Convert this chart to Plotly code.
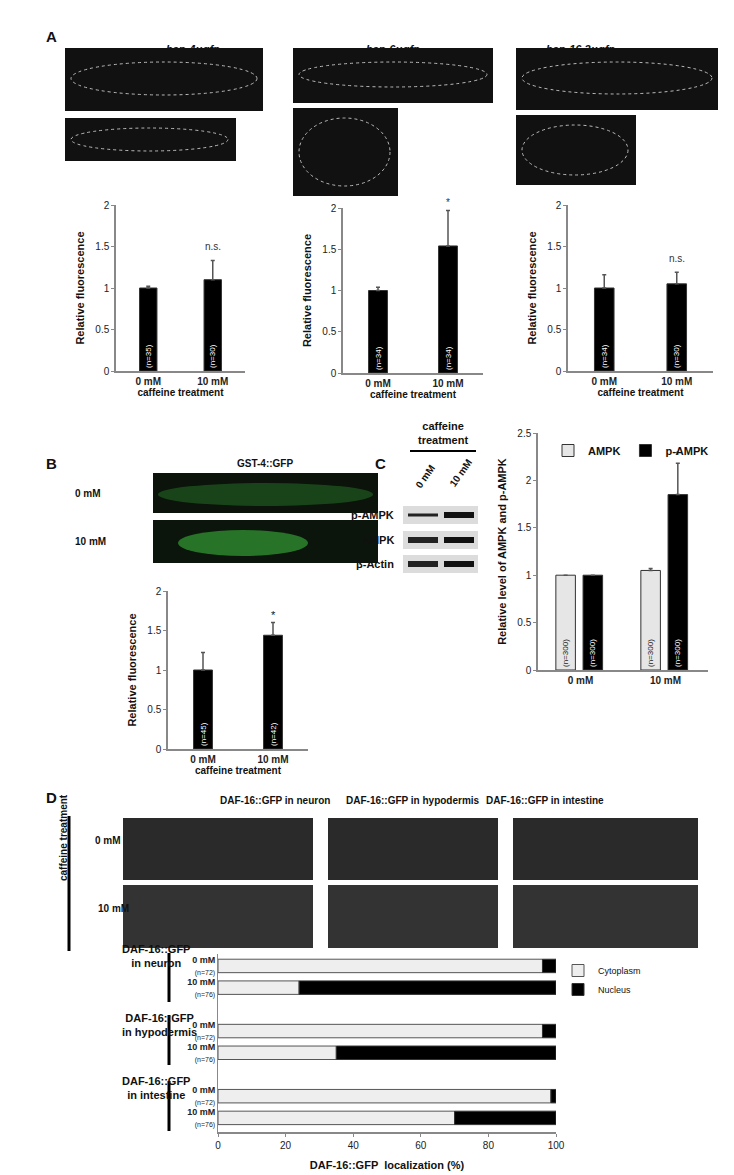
import plotly.graph_objects as go

W, H = 734, 1175
def px(x): return x / W
def py(y): return 1 - y / H

# ---------------- data ----------------
conc = ["0 mM", "10 mM"]
a_titles = ["hsp-4::gfp", "hsp-6::gfp", "hsp-16.2::gfp"]
a_vals = [[1.0, 1.1], [1.0, 1.54], [1.0, 1.05]]
a_err = [[0.02, 0.23], [0.04, 0.43], [0.16, 0.14]]
a_n = [["(n=35)", "(n=30)"], ["(n=34)", "(n=34)"], ["(n=34)", "(n=30)"]]
a_sig = ["n.s.", "*", "n.s."]
b_vals = [1.0, 1.44]
b_err = [0.22, 0.16]
b_n = ["(n=45)", "(n=42)"]
c_ampk = [1.0, 1.05]
c_ampk_err = [0, 0.02]
c_pampk = [1.0, 1.85]
c_pampk_err = [0, 0.33]
c_n = ["(n=300)", "(n=300)"]
d_conc = ["0 mM", "10 mM"] * 3
d_n = ["(n=72)", "(n=76)"] * 3
d_pos = [0, 1, 3, 4, 6, 7]
d_cyto = [96, 24, 96, 35, 98.5, 70]
d_nuc = [100 - v for v in d_cyto]
d_groups = ["DAF-16::GFP<br>in neuron", "DAF-16::GFP<br>in hypodermis", "DAF-16::GFP<br>in intestine"]

fig = go.Figure()
FONT = "Liberation Sans"
def axline():
    return dict(showline=True, linecolor="#888", linewidth=1.5, showgrid=False, zeroline=False,
                ticks="outside", ticklen=3, tickcolor="#888", tickfont=dict(size=10, color="#222", family=FONT))
ann = []
shapes = []

def sfx(i): return "" if i == 1 else str(i)

def bar_axes(i, x0, x1, y0, y1, ymax, dtick, xtitle=True, ytitle="Relative fluorescence"):
    xd = axline(); xd.update(domain=[px(x0), px(x1)], anchor="y" + sfx(i), range=[-0.5, 1.5], ticks="",
                            tickvals=[0, 1], ticktext=["<b>0 mM</b>", "<b>10 mM</b>"])
    if xtitle:
        xd["title"] = dict(text="<b>caffeine treatment</b>", font=dict(size=10, family=FONT, color="#111"), standoff=2)
    yd = axline(); yd.update(domain=[py(y1), py(y0)], anchor="x" + sfx(i), range=[0, ymax], dtick=dtick,
                            title=dict(text=f"<b>{ytitle}</b>", font=dict(size=11, family=FONT, color="#111"), standoff=8))
    fig.layout["xaxis" + sfx(i)] = xd
    fig.layout["yaxis" + sfx(i)] = yd

def bars(i, vals, err, ntext, color="black", name=None, offset=None, width=0.27, tcolor="white", show=False):
    fig.add_trace(go.Bar(x=[0, 1], y=vals, width=width, offset=offset, marker=dict(color=color, line=dict(color="#333", width=1)),
                         error_y=dict(type="data", symmetric=False, array=err, arrayminus=[0]*len(err), color="#555", thickness=1.5, width=2),
                         text=ntext, textangle=-90, textposition="inside", insidetextanchor="start", cliponaxis=False,
                         textfont=dict(size=8, color=tcolor, family=FONT), name=name, showlegend=show, legend="legend",
                         xaxis="x" + sfx(i), yaxis="y" + sfx(i)))

# ---------- Panel A ----------
a_geo = [(108, 237, 197, 363), (335, 475, 200, 365), (560, 705, 197, 363)]
for k in range(3):
    x0, x1, y0, y1 = a_geo[k]
    bar_axes(k + 1, x0, x1, y0, y1, 2, 0.5)
    bars(k + 1, a_vals[k], a_err[k], a_n[k])
    ann.append(dict(x=1, y=a_vals[k][1] + a_err[k][1], xref="x" + sfx(k + 1), yref="y" + sfx(k + 1), text=a_sig[k], showarrow=False,
                    yshift=14 if a_sig[k] == "n.s." else 8, font=dict(size=10, color="#333", family=FONT)))

# ---------- Panel B ----------
bar_axes(4, 160, 300, 583, 741, 2, 0.5)
bars(4, b_vals, b_err, b_n)
ann.append(dict(x=1, y=b_vals[1] + b_err[1], xref="x4", yref="y4", text="*", showarrow=False, yshift=8, font=dict(size=11, family=FONT)))

# ---------- Panel C ----------
bar_axes(5, 530, 700, 425, 662, 2.5, 0.5, xtitle=False, ytitle="Relative level of AMPK and p-AMPK")
bars(5, c_ampk, c_ampk_err, c_n, color="#e6e6e6", name="<b>AMPK</b>", offset=-0.29, width=0.23, tcolor="#222", show=True)
bars(5, c_pampk, c_pampk_err, c_n, color="black", name="<b>p-AMPK</b>", offset=0.03, width=0.23, show=True)
ann.append(dict(x=1.145, y=c_pampk[1] + c_pampk_err[1], xref="x5", yref="y5", text="*", showarrow=False, yshift=8, font=dict(size=11, family=FONT)))

# ---------- Panel D ----------
fig.add_trace(go.Bar(y=d_pos, x=d_cyto, orientation="h", width=0.62, name="Cytoplasm", legend="legend2",
                     marker=dict(color="#eeeeee", line=dict(color="#555", width=1)), xaxis="x6", yaxis="y6"))
fig.add_trace(go.Bar(y=d_pos, x=d_nuc, base=d_cyto, orientation="h", width=0.62, name="Nucleus", legend="legend2",
                     marker=dict(color="black", line=dict(color="#333", width=1)), xaxis="x6", yaxis="y6"))
xd6 = axline(); xd6.update(domain=[px(210), px(548)], anchor="y6", range=[0, 100], dtick=20,
                           title=dict(text="<b>DAF-16::GFP  localization (%)</b>", font=dict(size=11, family=FONT, color="#111"), standoff=12))
fig.layout.xaxis6 = xd6
d_ticks = [f"<b>{c}</b><br><span style='font-size:7px'>{n}</span>" for c, n in zip(d_conc, d_n)]
fig.layout.yaxis6 = dict(domain=[py(1124), py(946)], anchor="x6", range=[7.65, -0.55], tickvals=d_pos, ticktext=d_ticks,
                         showline=True, linecolor="#888", showgrid=False, zeroline=False, ticks="",
                         tickfont=dict(size=9, color="#222", family=FONT))
for g, yc in zip(d_groups, [963, 1032, 1095]):
    ann.append(dict(x=px(112), y=py(yc), xref="paper", yref="paper", text=f"<b>{g}</b>", showarrow=False,
                    font=dict(size=11, family=FONT, color="#111")))
for y0, y1 in [(945, 994), (1007, 1057), (1073, 1123)]:
    shapes.append(dict(type="line", xref="paper", yref="paper", x0=px(161), x1=px(161), y0=py(y0), y1=py(y1), line=dict(color="black", width=3)))

# ---------- images as dark rectangles ----------
def rect(x0, y0, x1, y1, color="#111"):
    shapes.append(dict(type="rect", xref="paper", yref="paper", x0=px(x0), x1=px(x1), y0=py(y1), y1=py(y0),
                       fillcolor=color, line=dict(width=0)))
def worm(x0, y0, x1, y1):
    shapes.append(dict(type="circle", xref="paper", yref="paper", x0=px(x0), x1=px(x1), y0=py(y1), y1=py(y0),
                       line=dict(color="#bbb", width=1, dash="dot")))

imgsA = [[(57, 40, 255, 103), (57, 110, 228, 153)],
         [(285, 40, 485, 95), (285, 100, 390, 188)],
         [(508, 40, 710, 102), (508, 107, 628, 177)]]
for k, (t, b) in enumerate(imgsA):
    rect(*t); rect(*b)
    worm(t[0] + 6, t[1] + 14, t[2] - 6, t[3] - 16)
    worm(b[0] + 6, b[1] + 10, b[2] - 8, b[3] - 10)
    ann.append(dict(x=px((t[0] + t[2]) / 2), y=py(33), xref="paper", yref="paper", text=f"<b><i>{a_titles[k]}</i></b>",
                    showarrow=False, font=dict(size=11, family=FONT)))

rect(145, 465, 370, 505, "#0b130b"); rect(145, 512, 370, 555, "#0b150b")
shapes.append(dict(type="circle", xref="paper", yref="paper", x0=px(150), x1=px(365), y0=py(498), y1=py(475), fillcolor="#1f5a1f", line=dict(width=0), opacity=0.7))
shapes.append(dict(type="circle", xref="paper", yref="paper", x0=px(170), x1=px(300), y0=py(548), y1=py(522), fillcolor="#2e8b2e", line=dict(width=0), opacity=0.8))
ann += [dict(x=px(257), y=py(456), xref="paper", yref="paper", text="<b>GST-4::GFP</b>", showarrow=False, font=dict(size=10, family=FONT)),
        dict(x=px(65), y=py(485), xref="paper", yref="paper", text="<b>0 mM</b>", showarrow=False, font=dict(size=10, family=FONT)),
        dict(x=px(65), y=py(533), xref="paper", yref="paper", text="<b>10 mM</b>", showarrow=False, font=dict(size=10, family=FONT))]

# western blot
ann.append(dict(x=px(435), y=py(425), xref="paper", yref="paper", text="<b>caffeine<br>treatment</b>", showarrow=False, font=dict(size=11, family=FONT)))
shapes.append(dict(type="line", xref="paper", yref="paper", x0=px(402), x1=px(468), y0=py(443), y1=py(443), line=dict(color="black", width=2)))
ann += [dict(x=px(417), y=py(468), xref="paper", yref="paper", text="<b>0 mM</b>", textangle=-55, showarrow=False, font=dict(size=10, family=FONT)),
        dict(x=px(452), y=py(465), xref="paper", yref="paper", text="<b>10 mM</b>", textangle=-55, showarrow=False, font=dict(size=10, family=FONT))]
for lbl, yc, w0, w1 in [("p-AMPK", 507, 3, 6), ("AMPK", 532, 6, 6), ("β-Actin", 556, 6, 6)]:
    rect(395, yc - 9, 470, yc + 9, "#dcdcdc")
    shapes.append(dict(type="rect", xref="paper", yref="paper", x0=px(400), x1=px(430), y0=py(yc + w0 / 2), y1=py(yc - w0 / 2), fillcolor="#222", line=dict(width=0)))
    shapes.append(dict(type="rect", xref="paper", yref="paper", x0=px(436), x1=px(466), y0=py(yc + w1 / 2), y1=py(yc - w1 / 2), fillcolor="#111", line=dict(width=0)))
    ann.append(dict(x=px(388), y=py(yc), xref="paper", yref="paper", text=f"<b>{lbl}</b>", xanchor="right", showarrow=False, font=dict(size=11, family=FONT)))

# Panel D images
cols = [(115, 305), (320, 490), (505, 690)]
titles = ["DAF-16::GFP in neuron", "DAF-16::GFP in hypodermis", "DAF-16::GFP in intestine"]
for (x0, x1), t in zip(cols, titles):
    rect(x0, 810, x1, 872, "#2a2a2a"); rect(x0, 877, x1, 940, "#333")
    ann.append(dict(x=px((x0 + x1) / 2), y=py(800), xref="paper", yref="paper", text=f"<b>{t}</b>", showarrow=False, font=dict(size=10, family=FONT)))
shapes.append(dict(type="line", xref="paper", yref="paper", x0=px(61), x1=px(61), y0=py(808), y1=py(943), line=dict(color="black", width=3)))
ann += [dict(x=px(48), y=py(875), xref="paper", yref="paper", text="<b>caffeine treatment</b>", textangle=-90, showarrow=False, font=dict(size=10, family=FONT)),
        dict(x=px(85), y=py(840), xref="paper", yref="paper", text="<b>0 mM</b>", showarrow=False, font=dict(size=10, family=FONT)),
        dict(x=px(88), y=py(908), xref="paper", yref="paper", text="<b>10 mM</b>", showarrow=False, font=dict(size=10, family=FONT))]

# panel letters
for L, x, y in [("A", 36, 18), ("B", 36, 455), ("C", 372, 455), ("D", 36, 800)]:
    ann.append(dict(x=px(x), y=py(y), xref="paper", yref="paper", text=f"<b>{L}</b>", showarrow=False, font=dict(size=15, family=FONT)))

fig.update_layout(
    width=W, height=H, margin=dict(l=0, r=0, t=0, b=0, autoexpand=False), paper_bgcolor="white", plot_bgcolor="white",
    font=dict(family=FONT, color="#111"),
    barmode="overlay", annotations=ann, shapes=shapes,
    legend=dict(x=px(540), y=py(428), xanchor="left", yanchor="top", orientation="h", traceorder="normal",
                font=dict(size=11, family=FONT), itemwidth=30, bgcolor="rgba(0,0,0,0)"),
    legend2=dict(x=px(550), y=py(948), xanchor="left", yanchor="top", traceorder="normal", tracegroupgap=4,
                 font=dict(size=9, family=FONT), bgcolor="rgba(0,0,0,0)", itemwidth=30),
)
fig.write_html("out.html")
